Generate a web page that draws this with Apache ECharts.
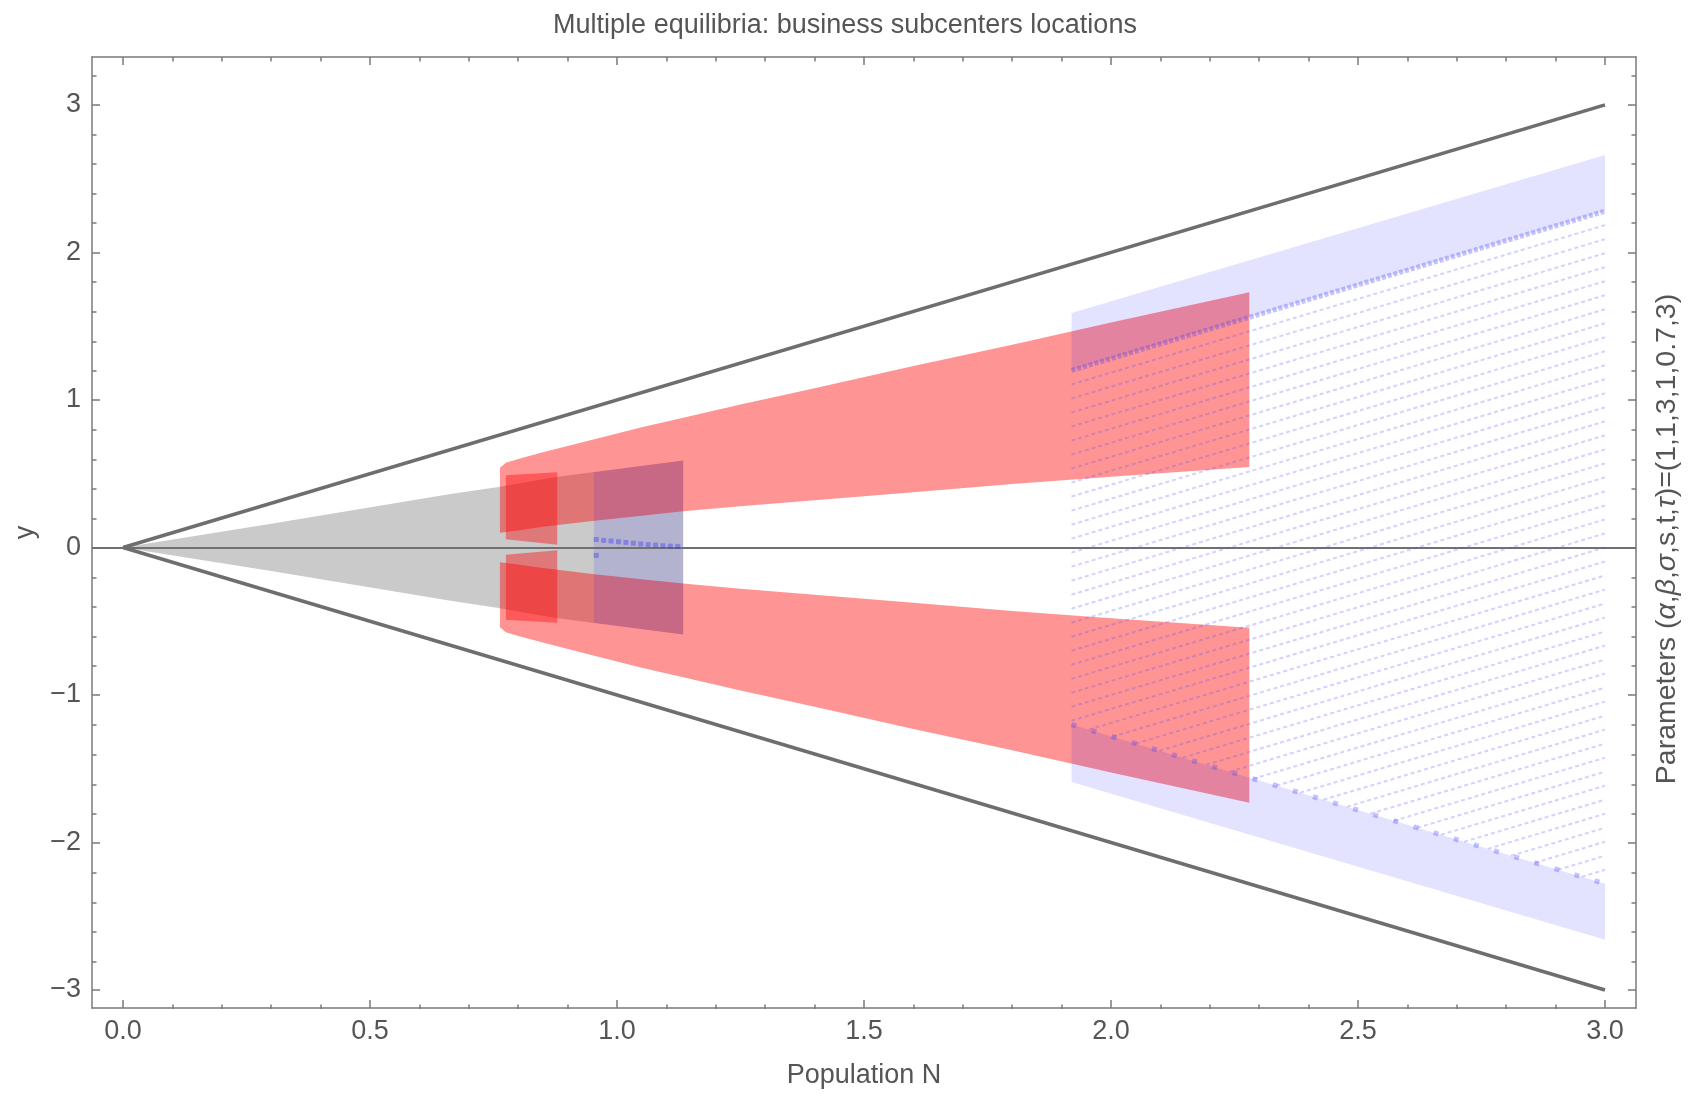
<!DOCTYPE html>
<html>
<head>
<meta charset="utf-8">
<script src="https://cdn.jsdelivr.net/npm/echarts@6/dist/echarts.min.js"></script>
<style>html,body{margin:0;padding:0;background:#fff}#c{width:1690px;height:1094px}</style>
</head>
<body>
<div id="c"></div>
<script>
// ---------- data ----------
const xMajorTicks = [0.0, 0.5, 1.0, 1.5, 2.0, 2.5, 3.0];
const xMinorTicks = [0.1,0.2,0.3,0.4,0.6,0.7,0.8,0.9,1.1,1.2,1.3,1.4,1.6,1.7,1.8,1.9,2.1,2.2,2.3,2.4,2.6,2.7,2.8,2.9];
const yMajorTicks = [-3, -2, -1, 0, 1, 2, 3];
const yMinorTicks = [-2.8,-2.6,-2.4,-2.2,-1.8,-1.6,-1.4,-1.2,-0.8,-0.6,-0.4,-0.2,0.2,0.4,0.6,0.8,1.2,1.4,1.6,1.8,2.2,2.4,2.6,2.8,3.2];

// outer boundaries y = ±N
const boundaryN = [0.0, 3.0];
const upperBoundary = [0.0, 3.0];
const lowerBoundary = [0.0, -3.0];

// gray wedge
const grayN  = [0.0, 0.30, 0.66, 0.76, 0.88, 1.134];
const grayHi = [0.0, 0.16, 0.36, 0.41, 0.48, 0.59];
const grayLo = [0.0, -0.16, -0.36, -0.41, -0.48, -0.59];

// red bands
const redN    = [0.763, 0.775, 0.80, 0.85, 0.95, 1.05, 1.134, 1.25, 1.40, 1.60, 1.80, 2.00, 2.28];
const redUpHi = [0.54, 0.575, 0.60, 0.645, 0.73, 0.815, 0.88, 0.97, 1.08, 1.23, 1.375, 1.525, 1.73];
const redUpLo = [0.10, 0.105, 0.115, 0.14, 0.18, 0.215, 0.245, 0.28, 0.32, 0.375, 0.43, 0.48, 0.545];
const redDnHi = [-0.10, -0.105, -0.115, -0.14, -0.18, -0.215, -0.245, -0.28, -0.32, -0.375, -0.43, -0.48, -0.545];
const redDnLo = [-0.54, -0.575, -0.60, -0.645, -0.73, -0.815, -0.88, -0.97, -1.08, -1.23, -1.375, -1.525, -1.73];

// bright red patches
const brightN    = [0.775, 0.879];
const brightUpHi = [0.49, 0.51];
const brightUpLo = [0.055, 0.018];
const brightDnHi = [-0.05, -0.018];
const brightDnLo = [-0.49, -0.51];

// small blue patch
const smallBlueN  = [0.953, 1.134];
const smallBlueHi = [0.51, 0.59];
const smallBlueLo = [-0.51, -0.59];
const smallDotN = [0.958, 0.973, 0.988, 1.003, 1.018, 1.033, 1.048, 1.063, 1.078, 1.093, 1.108, 1.123, 0.958];
const smallDotY = [0.054, 0.048, 0.044, 0.039, 0.034, 0.029, 0.024, 0.020, 0.016, 0.012, 0.009, 0.007, -0.054];

// blue bands
const blueN    = [1.92, 3.0];
const blueUpHi = [1.59, 2.66];
const blueUpLo = [1.20, 2.28];
const blueDnHi = [-1.20, -2.28];
const blueDnLo = [-1.59, -2.66];

// dotted blue lines (start point, end at N = 3.0)
const dashEndN = 3.0;
const dashStartN = [1.92,1.92,1.92,1.92,1.92,1.92,1.92,1.92,1.92,1.92,1.92,1.92,1.92,1.92,1.92,1.92,1.92,1.92,1.92,1.92,1.92,1.92,1.92,1.92,1.92,
  1.955,2.003,2.05,2.098,2.145,2.193,2.24,2.288,2.335,2.383,2.43,2.478,2.525,2.573,2.62,2.668,2.715,2.763,2.81,2.858,2.905,2.953];
const dashStartY = [1.105,1.01,0.915,0.82,0.725,0.63,0.535,0.44,0.345,0.25,0.155,0.06,-0.035,-0.13,-0.225,-0.32,-0.415,-0.51,-0.605,-0.70,-0.795,-0.89,-0.985,-1.08,-1.175,
  -1.235,-1.283,-1.33,-1.378,-1.425,-1.473,-1.52,-1.568,-1.615,-1.663,-1.71,-1.758,-1.805,-1.853,-1.90,-1.948,-1.995,-2.043,-2.09,-2.138,-2.185,-2.233];
const dashEndY = [2.185,2.09,1.995,1.90,1.805,1.71,1.615,1.52,1.425,1.33,1.235,1.14,1.045,0.95,0.855,0.76,0.665,0.57,0.475,0.38,0.285,0.19,0.095,0.0,-0.095,
  -0.19,-0.285,-0.38,-0.475,-0.57,-0.665,-0.76,-0.855,-0.95,-1.045,-1.14,-1.235,-1.33,-1.425,-1.52,-1.615,-1.71,-1.805,-1.90,-1.995,-2.09,-2.185];

// ---------- chart ----------
const FONT = '"Liberation Sans", Arial, sans-serif';
const TXT = '#555555';
const FRAME = '#7a7a7a';
const X_MIN = -0.0628, X_MAX = 3.0628, Y_MIN = -3.122, Y_MAX = 3.325;

function band(nArr, loArr, hiArr, color, z) {
  return {
    type: 'custom', coordinateSystem: 'cartesian2d', xAxisIndex: 0, yAxisIndex: 0,
    data: nArr.map((n, i) => [n, loArr[i], hiArr[i]]),
    encode: { x: 0, y: [1, 2] }, clip: true, silent: true, z: z,
    renderItem: function (params, api) {
      if (params.dataIndex !== 0) return { type: 'group', children: [] };
      const pts = [];
      for (let i = 0; i < nArr.length; i++) pts.push(api.coord([nArr[i], hiArr[i]]));
      for (let i = nArr.length - 1; i >= 0; i--) pts.push(api.coord([nArr[i], loArr[i]]));
      return { type: 'polygon', shape: { points: pts }, style: { fill: color } };
    }
  };
}

const GRAY = 'rgba(150,150,150,0.5)';
const RED = 'rgba(255,0,0,0.42)';
const RED2 = 'rgba(255,0,0,0.40)';
const BLUE = 'rgba(0,0,255,0.11)';

const series = [
  band(grayN, grayLo, grayHi, GRAY, 1),
  band(redN, redUpLo, redUpHi, RED, 2),
  band(redN, redDnLo, redDnHi, RED, 2),
  band(brightN, brightUpLo, brightUpHi, RED2, 3),
  band(brightN, brightDnLo, brightDnHi, RED2, 3),
  band(smallBlueN, smallBlueLo, smallBlueHi, BLUE, 4),
  band(blueN, blueUpLo, blueUpHi, BLUE, 4),
  band(blueN, blueDnLo, blueDnHi, BLUE, 4),
  {
    type: 'lines', coordinateSystem: 'cartesian2d', xAxisIndex: 0, yAxisIndex: 0, silent: true, z: 5,
    data: dashStartN.map((n, i) => ({ coords: [[n, dashStartY[i]], [dashEndN, dashEndY[i]]] })),
    lineStyle: { color: 'rgba(80,80,255,0.26)', width: 2, type: [4, 3], opacity: 1 }
  },
  {
    type: 'line', xAxisIndex: 0, yAxisIndex: 0, silent: true, z: 6, showSymbol: false, symbol: 'none',
    data: blueN.map((n, i) => [n, blueUpLo[i]]),
    lineStyle: { color: 'rgba(60,60,255,0.3)', width: 5, type: [4, 2] }
  },
  {
    type: 'line', xAxisIndex: 0, yAxisIndex: 0, silent: true, z: 6, showSymbol: false, symbol: 'none',
    data: blueN.map((n, i) => [n, blueDnHi[i]]),
    lineStyle: { color: 'rgba(60,60,255,0.3)', width: 5, type: [5, 16] }
  },
  {
    type: 'scatter', xAxisIndex: 0, yAxisIndex: 0, silent: true, z: 6, symbol: 'rect', symbolSize: 5,
    data: smallDotN.map((n, i) => [n, smallDotY[i]]),
    itemStyle: { color: 'rgba(40,40,255,0.42)' }
  },
  {
    type: 'line', xAxisIndex: 0, yAxisIndex: 0, silent: true, z: 8, showSymbol: false, symbol: 'none',
    data: boundaryN.map((n, i) => [n, upperBoundary[i]]),
    lineStyle: { color: '#6e6e6e', width: 3.5 },
    markLine: {
      silent: true, symbol: ['none', 'none'], animation: false,
      label: { show: false },
      lineStyle: { color: '#707070', width: 1.8, type: 'solid' },
      data: [{ yAxis: 0 }]
    }
  },
  {
    type: 'line', xAxisIndex: 0, yAxisIndex: 0, silent: true, z: 8, showSymbol: false, symbol: 'none',
    data: boundaryN.map((n, i) => [n, lowerBoundary[i]]),
    lineStyle: { color: '#6e6e6e', width: 3.5 }
  }
];

const lineSt = { color: FRAME, width: 1.5 };
function xAx(grid, pos, ticks, len, showLine, labels, extra) {
  return Object.assign({
    type: 'value', gridIndex: grid, position: pos, min: X_MIN, max: X_MAX,
    axisLine: { show: showLine, onZero: false, lineStyle: lineSt },
    axisTick: { show: true, inside: true, length: len, customValues: ticks, lineStyle: lineSt },
    axisLabel: labels ? { show: true, customValues: ticks, formatter: v => Number(v).toFixed(1), margin: 10,
      fontSize: 27, color: TXT, fontFamily: FONT } : { show: false },
    splitLine: { show: false }, minorTick: { show: false }
  }, extra || {});
}
function yAx(grid, pos, ticks, len, showLine, labels, extra) {
  return Object.assign({
    type: 'value', gridIndex: grid, position: pos, min: Y_MIN, max: Y_MAX,
    axisLine: { show: showLine, onZero: false, lineStyle: lineSt },
    axisTick: { show: true, inside: true, length: len, customValues: ticks, lineStyle: lineSt },
    axisLabel: labels ? { show: true, customValues: ticks, formatter: v => String(Math.round(v)).replace('-', '\u2212'), margin: 11,
      fontSize: 27, color: TXT, fontFamily: FONT } : { show: false },
    splitLine: { show: false }, minorTick: { show: false }
  }, extra || {});
}

const gridRect = { left: 92, right: 54, top: 57, bottom: 85 };

const option = {
  animation: false,
  backgroundColor: '#ffffff',
  title: {
    text: 'Multiple equilibria: business subcenters locations',
    left: 'center', top: 7,
    textStyle: { fontSize: 27, fontWeight: 'normal', color: TXT, fontFamily: FONT }
  },
  grid: [Object.assign({}, gridRect), Object.assign({}, gridRect)],
  xAxis: [
    xAx(0, 'bottom', xMajorTicks, 8, true, true, {
      name: 'Population N', nameLocation: 'middle', nameGap: 54,
      nameTextStyle: { fontSize: 27, color: TXT, fontFamily: FONT }
    }),
    xAx(0, 'top', xMajorTicks, 8, true, false),
    xAx(1, 'bottom', xMinorTicks, 4.5, false, false),
    xAx(1, 'top', xMinorTicks, 4.5, false, false)
  ],
  yAxis: [
    yAx(0, 'left', yMajorTicks, 8, true, true, {
      name: 'y', nameLocation: 'middle', nameGap: 53, nameRotate: 90,
      nameTextStyle: { fontSize: 27, color: TXT, fontFamily: FONT }
    }),
    yAx(0, 'right', yMajorTicks, 8, true, false, {
      name: 'Parameters ({i|\u03b1},{i|\u03b2},{i|\u03c3},s,t,{i|\u03c4})=(1,1,3,1,0.7,3)',
      nameLocation: 'middle', nameGap: 17, nameRotate: 90,
      nameTextStyle: { fontSize: 28.5, color: TXT, fontFamily: FONT, padding: [0, 13, 0, 0],
        rich: { i: { fontStyle: 'italic', fontSize: 28.5, color: TXT, fontFamily: FONT } } }
    }),
    yAx(1, 'left', yMinorTicks, 4.5, false, false),
    yAx(1, 'right', yMinorTicks, 4.5, false, false)
  ],
  series: series
};

const chart = echarts.init(document.getElementById('c'));
chart.setOption(option);
</script>
</body>
</html>
